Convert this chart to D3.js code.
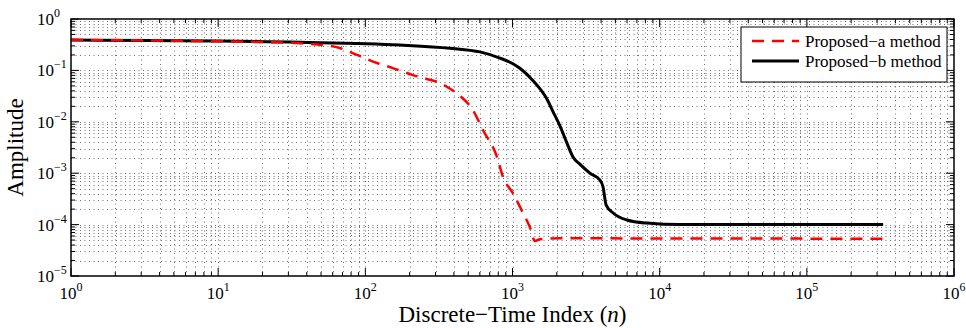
<!DOCTYPE html>
<html>
<head>
<meta charset="utf-8">
<script src="https://cdn.jsdelivr.net/npm/d3@7"></script>
<style>
  body { margin: 0; background: #fff; }
  text { font-family: "Liberation Serif", "Times New Roman", serif; fill: #000; }
</style>
</head>
<body>
<div id="chart"></div>
<script>
// series (n, amplitude)
const nA = [1, 19, 44, 67, 88, 120, 154, 211, 262, 321, 358, 439, 538, 630, 783, 861, 1006, 1177, 1313, 1420, 1535, 2100, 330000];
const ampA = [0.39, 0.357, 0.324, 0.273, 0.20, 0.139, 0.111, 0.081, 0.068, 0.057, 0.048, 0.032, 0.017, 0.0069, 0.0021, 0.00085, 0.00041, 0.00017, 0.000089, 0.000048, 0.000052, 0.000054, 0.000053];

const nB = [1, 36, 172, 376, 601, 821, 1006, 1122, 1380, 1710, 1880, 2100, 2340, 2570, 2870, 3360, 3920, 4110, 4330, 4810, 5980, 8180, 13800, 330000];
const ampB = [0.39, 0.352, 0.312, 0.27, 0.229, 0.174, 0.135, 0.11, 0.063, 0.028, 0.016, 0.0083, 0.0039, 0.0021, 0.0015, 0.001, 0.00074, 0.00056, 0.00024, 0.00017, 0.000123, 0.000107, 0.0001, 0.0001];

const seriesNames = ['Proposed\u2212a method', 'Proposed\u2212b method'];
const xTickExp = [0, 1, 2, 3, 4, 5, 6];
const yTickExp = [0, -1, -2, -3, -4, -5];

const width = 966, height = 328;
const margin = {top: 19, right: 12, bottom: 52, left: 71};
const w = width - margin.left - margin.right;
const h = height - margin.top - margin.bottom;

const svg = d3.select('#chart').append('svg')
  .attr('width', width)
  .attr('height', height);

const x = d3.scaleLog().domain([1, 1e6]).range([0, w]);
const y = d3.scaleLog().domain([1e-5, 1]).range([h, 0]);

const g = svg.append('g')
  .attr('transform', 'translate(' + margin.left + ',' + margin.top + ')');

// all decade + minor positions
const xAll = [], yAll = [];
for (let k = 0; k < 6; k++) for (let m = 1; m < 10; m++) xAll.push(m * Math.pow(10, k));
xAll.push(1e6);
for (let k = -5; k < 0; k++) for (let m = 1; m < 10; m++) yAll.push(m * Math.pow(10, k));
yAll.push(1);
const isMajor = v => Math.abs(Math.log10(v) - Math.round(Math.log10(v))) < 1e-9;

// dotted grid
const grid = g.append('g').attr('stroke', '#000').attr('stroke-width', 1)
  .attr('stroke-dasharray', '1,3.5').attr('opacity', 0.55);
grid.selectAll('.gx').data(xAll.slice(1, -1)).enter().append('line')
  .attr('x1', d => Math.round(x(d)) + 0.5).attr('x2', d => Math.round(x(d)) + 0.5)
  .attr('y1', 0).attr('y2', h);
grid.selectAll('.gy').data(yAll.slice(1, -1)).enter().append('line')
  .attr('y1', d => Math.round(y(d)) + 0.5).attr('y2', d => Math.round(y(d)) + 0.5)
  .attr('x1', 0).attr('x2', w);

// inside ticks on all four sides
const tk = g.append('g').attr('stroke', '#000').attr('stroke-width', 1);
const tlen = d => isMajor(d) ? 8 : 4;
tk.selectAll('.tb').data(xAll).enter().append('line')
  .attr('x1', d => x(d)).attr('x2', d => x(d)).attr('y1', h).attr('y2', d => h - tlen(d));
tk.selectAll('.tt').data(xAll).enter().append('line')
  .attr('x1', d => x(d)).attr('x2', d => x(d)).attr('y1', 0).attr('y2', d => tlen(d));
tk.selectAll('.tl').data(yAll).enter().append('line')
  .attr('y1', d => y(d)).attr('y2', d => y(d)).attr('x1', 0).attr('x2', d => tlen(d));
tk.selectAll('.tr').data(yAll).enter().append('line')
  .attr('y1', d => y(d)).attr('y2', d => y(d)).attr('x1', w).attr('x2', d => w - tlen(d));

// data lines
const line = d3.line().x(d => x(d[0])).y(d => y(d[1])).curve(d3.curveMonotoneX);
const dataA = nA.map((n, i) => [n, ampA[i]]);
const dataB = nB.map((n, i) => [n, ampB[i]]);

g.append('path').datum(dataB)
  .attr('fill', 'none').attr('stroke', '#000').attr('stroke-width', 3)
  .attr('d', line);
g.append('path').datum(dataA)
  .attr('fill', 'none').attr('stroke', '#ff0000').attr('stroke-width', 2.5)
  .attr('stroke-dasharray', '12,8')
  .attr('d', line);

// box
g.append('rect').attr('width', w).attr('height', h)
  .attr('fill', 'none').attr('stroke', '#000').attr('stroke-width', 1.5);

// tick labels
const supExp = e => (e < 0 ? '\u2212' : '') + Math.abs(e);
const xl = g.selectAll('.xl').data(xTickExp).enter().append('text')
  .attr('x', d => x(Math.pow(10, d))).attr('y', h + 23)
  .attr('text-anchor', 'middle').attr('font-size', 17);
xl.append('tspan').text('10');
xl.append('tspan').attr('dy', -8).attr('font-size', 12).text(d => supExp(d));

g.selectAll('.yl').data(yTickExp).enter().append('text')
  .attr('x', -17).attr('y', d => y(Math.pow(10, d)) + 6)
  .attr('text-anchor', 'end').attr('font-size', 17).text('10');
g.selectAll('.ye').data(yTickExp).enter().append('text')
  .attr('x', -17).attr('y', d => y(Math.pow(10, d)) - 2)
  .attr('font-size', 12).text(d => supExp(d));

// axis titles
const xt = svg.append('text')
  .attr('x', margin.left + w / 2).attr('y', 322)
  .attr('text-anchor', 'middle').attr('font-size', 23);
xt.append('tspan').text('Discrete\u2212Time Index (');
xt.append('tspan').attr('font-style', 'italic').text('n');
xt.append('tspan').text(')');

svg.append('text')
  .attr('transform', 'translate(23,' + (margin.top + h / 2) + ') rotate(-90)')
  .attr('text-anchor', 'middle').attr('font-size', 23).text('Amplitude');

// legend
const lg = svg.append('g').attr('transform', 'translate(741,27)');
lg.append('rect').attr('width', 206).attr('height', 55)
  .attr('fill', '#fff').attr('stroke', '#000').attr('stroke-width', 1);
const legItems = [
  {name: seriesNames[0], color: '#ff0000', dash: '12,8', sw: 2.5},
  {name: seriesNames[1], color: '#000', dash: null, sw: 3}
];
legItems.forEach((it, i) => {
  lg.append('line').attr('x1', 11).attr('x2', 58)
    .attr('y1', 14 + i * 20).attr('y2', 14 + i * 20)
    .attr('stroke', it.color).attr('stroke-width', it.sw)
    .attr('stroke-dasharray', it.dash);
  lg.append('text').attr('x', 64).attr('y', 20 + i * 20)
    .attr('font-size', 17).text(it.name);
});
</script>
</body>
</html>
